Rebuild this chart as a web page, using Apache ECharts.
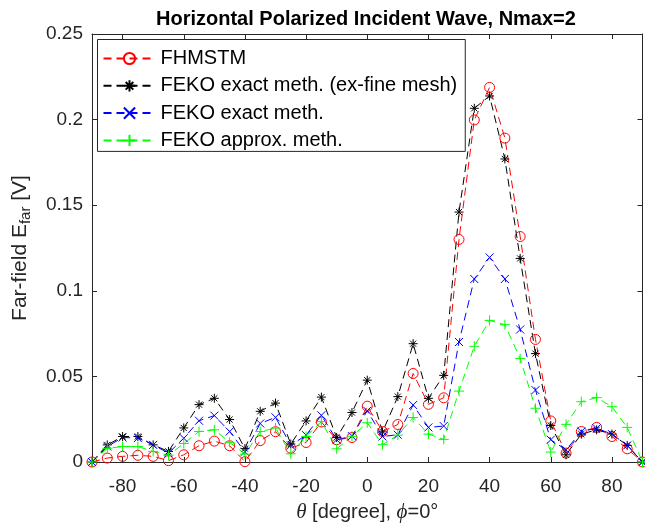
<!DOCTYPE html>
<html>
<head>
<meta charset="utf-8">
<script src="https://cdn.jsdelivr.net/npm/echarts@6/dist/echarts.min.js"></script>
<style>
html,body{margin:0;padding:0;background:#fff;}
#c{width:645px;height:528px;}
</style>
</head>
<body>
<div id="c"></div>
<script>
var theta = [-90,-85,-80,-75,-70,-65,-60,-55,-50,-45,-40,-35,-30,-25,-20,-15,-10,-5,0,5,10,15,20,25,30,35,40,45,50,55,60,65,70,75,80,85,90];
var fhmstm = [0,0.0023,0.0033,0.0039,0.0033,0.0008,0.0042,0.0095,0.0122,0.0095,0.0002,0.0125,0.0177,0.0080,0.0114,0.0234,0.0130,0.0143,0.0326,0.0178,0.0219,0.0517,0.0337,0.0375,0.1300,0.1998,0.2188,0.1892,0.1317,0.0716,0.0240,0.0052,0.0178,0.0202,0.0149,0.0077,0];
var fekoFine = [0,0.0100,0.0149,0.0149,0.0100,0.0062,0.0199,0.0335,0.0372,0.0248,0.0078,0.0296,0.0344,0.0105,0.0240,0.0379,0.0143,0.0289,0.0478,0.0176,0.0382,0.0691,0.0372,0.0506,0.1460,0.2066,0.2138,0.1770,0.1189,0.0633,0.0213,0.0042,0.0163,0.0188,0.0163,0.0097,0];
var fekoExact = [0,0.0090,0.0143,0.0140,0.0100,0.0052,0.0139,0.0241,0.0271,0.0178,0.0060,0.0225,0.0261,0.0097,0.0157,0.0273,0.0130,0.0151,0.0299,0.0149,0.0159,0.0333,0.0202,0.0210,0.0701,0.1069,0.1195,0.1069,0.0774,0.0420,0.0130,0.0071,0.0178,0.0197,0.0163,0.0097,0];
var fekoApprox = [0,0.0080,0.0090,0.0090,0.0062,0.0039,0.0108,0.0178,0.0188,0.0115,0.0046,0.0178,0.0198,0.0048,0.0149,0.0237,0.0077,0.0150,0.0229,0.0101,0.0157,0.0260,0.0163,0.0132,0.0414,0.0676,0.0827,0.0802,0.0604,0.0314,0.0058,0.0220,0.0352,0.0376,0.0323,0.0202,0];
var xTicks = [-80,-60,-40,-20,0,20,40,60,80];
var seriesNames = ['FHMSTM','FEKO exact meth. (ex-fine mesh)','FEKO exact meth.','FEKO approx. meth.'];

function pairs(vals){ return theta.map(function(t,i){ return [t, vals[i]]; }); }

var axisCol = '#262626';
var font = 'Liberation Sans, Arial, Helvetica, sans-serif';
var SYM_AST = 'path://M5 0L5 10M0 5L10 5M1.6 1.6L8.4 8.4M1.6 8.4L8.4 1.6';
var SYM_X = 'path://M0 0L10 10M0 10L10 0';
var SYM_PLUS = 'path://M5 0L5 10M0 5L10 5';

function mkSeries(name, vals, color, symbol, size){
  return {
    name: name, type: 'line', data: pairs(vals),
    symbol: symbol, symbolSize: size, showAllSymbol: true,
    lineStyle: {color: color, width: 1, type: [8,5]},
    itemStyle: {color: 'none', borderColor: color, borderWidth: 1},
    emphasis: {disabled: true}, animation: false
  };
}

var chart = echarts.init(document.getElementById('c'), null, {renderer: 'canvas'});
var commonX = {
  type: 'value', min: -90, max: 90,
  axisLine: {show: true, onZero: false, lineStyle: {color: axisCol, width: 1}},
  axisTick: {show: true, inside: true, length: 5, customValues: xTicks, lineStyle: {color: axisCol}},
  splitLine: {show: false}
};
var commonY = {
  type: 'value', min: 0, max: 0.25, interval: 0.05,
  axisLine: {show: true, onZero: false, lineStyle: {color: axisCol, width: 1}},
  axisTick: {show: true, inside: true, length: 5, lineStyle: {color: axisCol}},
  splitLine: {show: false}
};
chart.setOption({
  backgroundColor: '#fff',
  animation: false,
  title: {
    text: 'Horizontal Polarized Incident Wave, Nmax=2',
    left: 156, top: 9, padding: 0,
    textStyle: {fontFamily: font, fontSize: 20, fontWeight: 'bold', color: '#000'}
  },
  grid: {left: 92, right: 2.5, top: 34, bottom: 64, containLabel: false},
  legend: {
    orient: 'vertical', left: 97.5, top: 39.5,
    padding: [9, 8, 1, 5],
    itemWidth: 52, itemHeight: 14, itemGap: 7.3,
    borderColor: axisCol, borderWidth: 1, backgroundColor: '#fff',
    textStyle: {fontFamily: font, fontSize: 20, color: '#000'},
    data: seriesNames
  },
  xAxis: [
    Object.assign({}, commonX, {
      position: 'bottom',
      axisLabel: {show: true, customValues: xTicks, fontFamily: font, fontSize: 19, color: axisCol, margin: 15},
      name: '{i|θ} [degree], {i|ϕ}=0°', nameLocation: 'middle', nameGap: 40,
      nameTextStyle: {fontFamily: font, fontSize: 20, color: axisCol,
        rich: {i: {fontFamily: 'Liberation Serif, serif', fontStyle: 'italic', fontSize: 21, color: axisCol}}}
    }),
    Object.assign({}, commonX, {position: 'top', axisLabel: {show: false}})
  ],
  yAxis: [
    Object.assign({}, commonY, {
      position: 'left',
      axisLabel: {fontFamily: font, fontSize: 19, color: axisCol, margin: 9},
      name: '{m|Far-field E}{s|far}{m| [V]}', nameLocation: 'middle', nameGap: 59, nameRotate: 90,
      nameTextStyle: {fontFamily: font, fontSize: 21, color: axisCol,
        rich: {m: {fontFamily: font, fontSize: 21, color: axisCol},
               s: {fontFamily: font, fontSize: 15, color: axisCol, padding: [11, 0, 0, 0]}}}
    }),
    Object.assign({}, commonY, {position: 'right', axisLabel: {show: false}})
  ],
  series: [
    mkSeries(seriesNames[0], fhmstm, '#ff0000', 'circle', 10),
    mkSeries(seriesNames[1], fekoFine, '#000000', SYM_AST, 9),
    mkSeries(seriesNames[2], fekoExact, '#0000ff', SYM_X, 8),
    mkSeries(seriesNames[3], fekoApprox, '#00ff00', SYM_PLUS, 10)
  ]
});
</script>
</body>
</html>
